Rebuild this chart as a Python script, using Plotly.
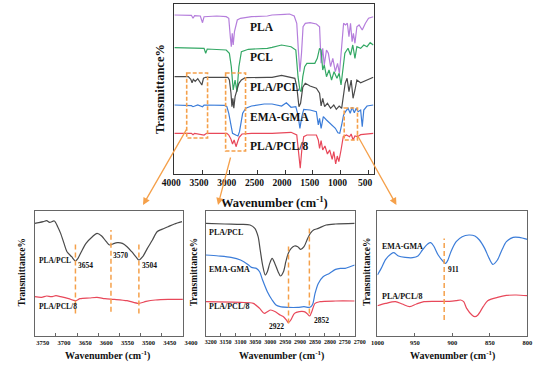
import plotly.graph_objects as go

# ---------------- data ----------------
# Main spectra (x: wavenumber cm-1, y: offset transmittance, arbitrary units)
PLA_w = [4000,3806,3692,3663,3634,3531,3491,3463,3234,3063,3017,2989,2971,2954,2937,2914,2891,2863,2806,2606,2320,2235,2006,1920,1835,1789,1760,1732,1703,1675,1635,1549,1435,1377,1349,1320,1292,1252,1218,1178,1138,1092,1052,1018,978,943,909,875,846,818,789,766,738,703,663,606,549,492,406]
PLA_t = [159,159,158.7,155.7,158.3,158,151.3,157.3,158,157.3,155.7,137.3,127.3,140.7,129,142.3,149,154,155.7,157.3,158,159,159.7,160,158,150.7,124,102.3,120.7,147.3,150.7,151.3,150,147.3,110.7,125.7,109,124,120.7,107.3,115.7,102.3,110.7,100.7,127.3,150.7,149,150.7,137.3,150.7,132.3,140.7,130.7,147.3,149,144,150.7,155.7,157.3]

PCL_w = [4000,3692,3463,3434,3406,3063,3006,2971,2937,2903,2869,2834,2789,2663,2320,2235,2063,1892,1806,1766,1732,1709,1680,1646,1606,1463,1418,1377,1349,1320,1292,1252,1206,1160,1115,1063,1023,989,955,920,863,818,777,738,703,635,578,520,463,406]
PCL_t = [126.3,126.3,125.7,120.7,125,124,120.7,107.3,84,94,82.3,107.3,122.3,124.7,125.7,126.7,129,127.3,124,97.3,84,82.3,97.3,107.3,110.7,110.7,115.7,125.7,124,104,109,97.3,104,94,102.3,95.7,100.7,89,107.3,120.7,125.7,119,129,115.7,127.3,125.7,129,127.3,131.3,129]

BLEND_w = [4000,3749,3703,3680,3657,3623,3577,3531,3503,3474,3434,3034,3006,2977,2960,2943,2926,2903,2874,2834,2789,2720,2320,2235,2063,1892,1823,1789,1749,1720,1680,1635,1549,1435,1377,1349,1320,1286,1235,1178,1120,1075,1023,978,943,915,880,846,806,772,738,703,635,520,406]
BLEND_t = [97.3,97.3,94.7,91.3,94.7,92.7,95.3,91.3,89,95.7,96.7,96.7,94,80.7,67.3,75.7,65.7,77.3,84,90.7,94,96.3,96.7,96.7,98.7,96.7,95.7,87.3,67.3,70.7,86.7,90.7,88,85.7,80.7,68,75.7,67.3,70.7,65.7,69,64.7,68,65.7,77.3,90.7,95.7,82.3,94,75.7,84,94,91.3,94,96.7]

EMA_w = [4000,3692,3663,3577,3491,3463,3092,3051,3017,2977,2949,2891,2851,2823,2800,2766,2709,2606,2377,2235,2063,1977,1892,1806,1766,1732,1698,1663,1549,1435,1400,1377,1349,1309,1252,1195,1138,1092,1046,1012,978,943,909,863,823,789,749,715,680,635,606,578,520,406]
EMA_t = [69,68.3,67.3,69,67.3,69,68.7,67.3,60.7,47.3,40.7,39,38,42.3,50.7,60.7,65.7,68,70,70,68,71.3,66.7,67.3,59,45.7,57.3,64.7,64,62.3,49,55.7,45.7,57.3,54,51.3,48,45.7,41.3,40.7,49,59,62.3,65.7,60.7,66.7,61.3,65.7,62.3,64,47.3,64,68,69]

P8_w = [4000,3692,3663,3634,3463,3417,3051,3017,2977,2949,2920,2886,2857,2829,2777,2606,2235,1892,1789,1755,1726,1698,1663,1606,1435,1400,1377,1349,1320,1280,1235,1195,1149,1120,1086,1057,1029,989,949,892,835,806,772,738,692,635,520,406]
P8_t = [40.7,40.7,39.3,40.7,39,40.7,40.7,39,34.7,30,34,27.3,32.3,36.7,40,40.7,40.7,41.7,39,20.7,5.7,24,37.3,39,39,34,25.7,33.3,24,28,20,24,14.7,22.3,10,18,12.3,24,37.3,39,37.3,40,34,38,37.3,39.3,40,40.7]

# Inset 1 (3750-3400)
I1_BLEND_w = [3750,3741,3730,3722,3715,3704,3696,3689,3681,3674,3663,3654,3648,3640,3629,3614,3603,3592,3581,3573,3566,3555,3543,3532,3521,3510,3504,3495,3484,3472,3461,3450,3435,3420,3402]
I1_BLEND_t = [112.3,113,114,115,113.3,114.7,109,102.3,92.3,84,79,74.7,77.3,84,92.3,99,102.3,99.7,94,90.7,91.7,93,92.3,89,84,78.3,75.7,79,87.3,95.7,104,106.3,109,111.7,114]
I1_P8_w = [3750,3734,3722,3711,3700,3689,3670,3654,3643,3621,3603,3584,3562,3532,3504,3487,3465,3435,3400]
I1_P8_t = [39,38.3,39.7,39,40,39,37,35,37,37.7,38.3,37,36.3,35,32.3,34.3,35.7,36.3,36.3]
I1_PEAKS = [3654, 3570, 3504]
I1_PEAK_TOP = [92.3, 105.7, 92.3]
I1_PEAK_BOT = [22.3, 24, 22.3]

# Inset 2 (3200-2700)
I2_BLEND_w = [3200,3136,3083,3051,3035,3024,3017,3009,3000,2993,2985,2977,2968,2957,2949,2939,2931,2923,2913,2902,2891,2881,2870,2860,2849,2838,2822,2796,2764,2700]
I2_BLEND_t = [112.3,111.7,111.3,110.7,107.3,99,85.7,70.7,60.7,64,72.3,77.3,72.3,64,59.7,64,74,82.3,87.3,89.7,89,86.3,89,95.7,102.3,105.7,107.3,110.7,111.7,112.3]
I2_EMA_w = [3200,3157,3115,3083,3056,3046,3030,3019,3009,2993,2977,2964,2950,2923,2891,2870,2854,2847,2840,2833,2822,2806,2785,2764,2748,2732,2716,2700]
I2_EMA_t = [80.7,79.7,78.3,75.7,70.7,68.3,67.3,64,55.7,44,35.7,30.7,29,28.3,28.3,29,28.3,29,32.3,42.3,52.3,59,62.3,66.3,67.3,67.3,69,70.7]
I2_P8_w = [3200,3083,3040,3019,3003,2993,2982,2966,2950,2939,2929,2922,2913,2902,2886,2870,2860,2851,2844,2833,2817,2764,2700]
I2_P8_t = [34,33.3,32.3,27.3,22.3,24,25.7,24,20.7,19,15.7,13,16.3,22.3,24,24,22.3,19.7,24,32.3,34,34.7,34.7]
I2_PEAKS = [2922, 2852]
I2_PEAK_TOP = [92.3, 109]
I2_PEAK_BOT = [12.3, 22.3]

# Inset 3 (1000-800)
I3_EMA_w = [1000,995,989,982,978,972,963,953,946,940,933,929,925,919,912,909,906,902,895,887,878,870,864,857,851,846,840,834,828,819,811,800]
I3_EMA_t = [60.7,67.3,76.3,81.7,83,79.7,78.3,78,79.7,85.7,91.7,93,89.7,80.7,74,72.3,75.7,84,94,99,100.7,99.7,95.7,87.3,77.3,71.3,75.7,85.7,94,98.3,98.3,96.3]
I3_P8_w = [1000,989,976,967,957,948,938,921,904,895,889,885,881,874,870,866,859,853,840,828,815,800]
I3_P8_t = [30,32.3,34,31.7,29,31.7,34,34.3,34.3,35,35.7,34,27.3,20.7,19,20.7,29,35,38.3,40.3,40.7,40]
I3_PEAKS = [911]
I3_PEAK_TOP = [97.3]
I3_PEAK_BOT = [15.7]

MAIN_TICKS = [4000, 3500, 3000, 2500, 2000, 1500, 1000, 500]
I1_TICKS = [3750, 3700, 3650, 3600, 3550, 3500, 3450, 3400]
I2_TICKS = [3200, 3150, 3100, 3050, 3000, 2950, 2900, 2850, 2800, 2750, 2700]
I3_TICKS = [1000, 950, 900, 850, 800]

# zoomed regions marked on the main plot: (w_left, w_right, t_top, t_bottom)
ZOOM_BOXES = [(3777, 3400, 101, 36), (3074, 2714, 101, 23), (932, 692, 66, 34)]

# ---------------- styling ----------------
SERIF = "Liberation Serif"
C_PLA = "#B57EDC"
C_PCL = "#34A865"
C_BLEND = "#4A4A4A"
C_EMA = "#3C7DD9"
C_P8 = "#E8485A"
C_OR = "#F5A04A"
TXT = "#111111"

W, H = 550, 366


def px2x(px):
    return px / W


def py2y(py):
    return 1 - py / H


fig = go.Figure()


def add(x, y, color, xa, ya, smooth=False, width=1.2):
    fig.add_trace(go.Scatter(
        x=x, y=y, mode="lines", xaxis=xa, yaxis=ya,
        line=dict(color=color, width=width,
                  shape="spline" if smooth else "linear",
                  smoothing=0.8 if smooth else None),
        hoverinfo="skip", showlegend=False))


# main
add(PLA_w, PLA_t, C_PLA, "x", "y")
add(PCL_w, PCL_t, C_PCL, "x", "y")
add(BLEND_w, BLEND_t, C_BLEND, "x", "y")
add(EMA_w, EMA_t, C_EMA, "x", "y")
add(P8_w, P8_t, C_P8, "x", "y")
# insets
add(I1_BLEND_w, I1_BLEND_t, C_BLEND, "x2", "y2", True)
add(I1_P8_w, I1_P8_t, C_P8, "x2", "y2", True)
add(I2_BLEND_w, I2_BLEND_t, C_BLEND, "x3", "y3", True)
add(I2_EMA_w, I2_EMA_t, C_EMA, "x3", "y3", True)
add(I2_P8_w, I2_P8_t, C_P8, "x3", "y3", True)
add(I3_EMA_w, I3_EMA_t, C_EMA, "x4", "y4", True)
add(I3_P8_w, I3_P8_t, C_P8, "x4", "y4", True)

shapes = []
for (x0, x1, y0, y1) in ZOOM_BOXES:
    shapes.append(dict(type="rect", xref="x", yref="y", x0=x0, x1=x1, y0=y0, y1=y1,
                       line=dict(color=C_OR, width=1.6, dash="4px,2px")))
for xr, yr, peaks, tops, bots in [("x2", "y2", I1_PEAKS, I1_PEAK_TOP, I1_PEAK_BOT),
                                  ("x3", "y3", I2_PEAKS, I2_PEAK_TOP, I2_PEAK_BOT),
                                  ("x4", "y4", I3_PEAKS, I3_PEAK_TOP, I3_PEAK_BOT)]:
    for p, t, b in zip(peaks, tops, bots):
        shapes.append(dict(type="line", xref=xr, yref=yr, x0=p, x1=p, y0=b, y1=t,
                           line=dict(color=C_OR, width=1.5, dash="5px,3px")))

ann = []


def label(text, x, y, xref, yref, size, xanchor="left", xshift=0, yshift=0):
    ann.append(dict(text=text, x=x, y=y, xref=xref, yref=yref, showarrow=False,
                    xanchor=xanchor, yanchor="middle", xshift=xshift, yshift=yshift,
                    font=dict(family=SERIF, size=size, color=TXT, weight="bold")))


# main curve labels
for txt, yv in [("PLA", 147), ("PCL", 117), ("PLA/PCL", 87), ("EMA-GMA", 57), ("PLA/PCL/8", 28)]:
    label(txt, 2663, yv, "x", "y", 11.5)
# inset 1 labels
label("PLA/PCL", 3746, 75.7, "x2", "y2", 7.5)
label("PLA/PCL/8", 3746, 29, "x2", "y2", 7.5)
label("3654", 3654, 70, "x2", "y2", 7.5, xshift=1)
label("3570", 3570, 80.7, "x2", "y2", 7.5)
label("3504", 3504, 70, "x2", "y2", 7.5, xshift=1)
# inset 2 labels
label("PLA/PCL", 3194, 103, "x3", "y3", 8)
label("EMA-GMA", 3194, 66.7, "x3", "y3", 8)
label("PLA/PCL/8", 3194, 29.7, "x3", "y3", 8)
label("2922", 2922, 9.3, "x3", "y3", 7.5, xanchor="right", xshift=-3)
label("2852", 2852, 15.7, "x3", "y3", 7.5, xshift=3)
# inset 3 labels
label("EMA-GMA", 996, 89.7, "x4", "y4", 8)
label("PLA/PCL/8", 996, 39.7, "x4", "y4", 8)
label("911", 911, 66.7, "x4", "y4", 7.5, xshift=2)

# axis titles (paper coordinates)
def ptitle(text, cx, cy, size, angle=0):
    ann.append(dict(text=text, x=px2x(cx), y=py2y(cy), xref="paper", yref="paper",
                    showarrow=False, xanchor="center", yanchor="middle", textangle=angle,
                    font=dict(family=SERIF, size=size, color=TXT, weight="bold")))


ptitle("Wavenumber (cm<sup>-1</sup>)", 275, 202, 12.5)
ptitle("Transmittance%", 155, 89, 12.5, -90)
for cx in [100, 283, 463]:
    ptitle("Wavenumber (cm<sup>-1</sup>)", cx, 355, 10)
for cx in [10, 191, 373]:
    ptitle("Transmittance%", cx, 272, 9.5, -90)

# arrows from zoom boxes to insets (head px, tail offset px)
for hx, hy, dx, dy in [(137, 205, 46, -80), (216, 205, 14, -53), (404, 205, -42, -75)]:
    ann.append(dict(x=px2x(hx), y=py2y(hy), xref="paper", yref="paper", text=" ",
                    showarrow=True, ax=dx, ay=dy, axref="pixel", ayref="pixel",
                    arrowhead=2, arrowsize=1.1, arrowwidth=1.3, arrowcolor=C_OR,
                    standoff=0, startstandoff=0, font=dict(size=6)))


def xax(dom, rng, ticks, size, frame, shift=0):
    d = dict(domain=dom, range=rng, tickvals=ticks, ticktext=[str(t) for t in ticks],
             ticks="inside", ticklen=3 if size < 9 else 4, tickcolor=frame,
             showline=True, mirror=True, linecolor=frame, linewidth=1.1,
             showgrid=False, zeroline=False, tickangle=0,
             tickfont=dict(family=SERIF, size=size, color=TXT, weight="bold"))
    if shift:
        d["ticklabelshift"] = shift
    return d


def yax(dom, rng, frame, anchor):
    return dict(domain=dom, range=rng, showticklabels=False, ticks="",
                showline=True, mirror=True, linecolor=frame, linewidth=1.1,
                showgrid=False, zeroline=False, anchor=anchor)


main_x = [px2x(170), px2x(380)]
main_y = [py2y(174), py2y(4)]
in_y = [py2y(335.7), py2y(211.2)]

fig.update_layout(
    width=W, height=H, margin=dict(l=0, r=0, t=0, b=0),
    paper_bgcolor="white", plot_bgcolor="white", showlegend=False,
    xaxis=dict(xax(main_x, [4000, 400], MAIN_TICKS, 9.5, "#333333", shift=3), anchor="y"),
    yaxis=yax(main_y, [0, 170], "#333333", "x"),
    xaxis2=dict(xax([px2x(23), px2x(179)], [3750, 3400], I1_TICKS, 6.5, "#666666", shift=-8), anchor="y2"),
    yaxis2=yax(in_y, [0, 124.5], "#666666", "x2"),
    xaxis3=dict(xax([px2x(203), px2x(360)], [3200, 2700], I2_TICKS, 6, "#666666", shift=-5), anchor="y3"),
    yaxis3=yax(in_y, [0, 124.5], "#666666", "x3"),
    xaxis4=dict(xax([px2x(384), px2x(542)], [1000, 800], I3_TICKS, 6.5, "#666666"), anchor="y4"),
    yaxis4=yax(in_y, [0, 124.5], "#666666", "x4"),
    shapes=shapes, annotations=ann,
)

fig.write_html("out.html", config={"displayModeBar": False},
               post_script="document.body.style.margin='0px';document.body.style.padding='0px';")
